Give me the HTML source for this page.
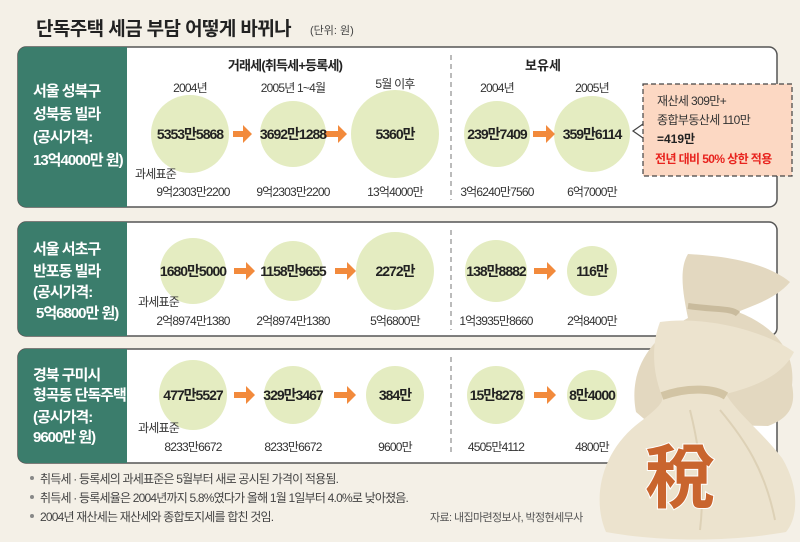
<!DOCTYPE html>
<html><head><meta charset="utf-8"><style>
html,body{margin:0;padding:0;background:#f4f0e7;}
svg{display:block}
text{font-family:"Liberation Sans","Noto Sans CJK KR",sans-serif;}
.n{font-size:14px;font-weight:bold;fill:#222;text-anchor:middle;letter-spacing:-1px}
.y{font-size:12px;fill:#333;text-anchor:middle;letter-spacing:-0.8px}
.b{font-size:12px;fill:#333;text-anchor:middle;letter-spacing:-0.8px}
.l{font-size:15px;fill:#fff;font-weight:bold;letter-spacing:-1px}
.nt{font-size:12px;fill:#444;letter-spacing:-0.8px}
</style></head><body>
<svg width="800" height="542" viewBox="0 0 800 542" xmlns="http://www.w3.org/2000/svg">
<rect width="800" height="542" fill="#f4f0e7"/>
<text x="36" y="35" style="font-size:19px;font-weight:bold;fill:#222;letter-spacing:-0.6px">단독주택 세금 부담 어떻게 바뀌나</text>
<text x="310" y="34" style="font-size:11px;fill:#444">(단위: 원)</text>

<g stroke="#555" stroke-width="1.5">
<rect x="18" y="47" width="759" height="160" rx="8" fill="#fff"/>
<rect x="18" y="222" width="759" height="114" rx="8" fill="#fff"/>
<rect x="18" y="349" width="759" height="114" rx="8" fill="#fff"/>
</g>
<path d="M26 47 H127 V207 H26 A8 8 0 0 1 18 199 V55 A8 8 0 0 1 26 47Z" fill="#3b7d6c"/>
<path d="M26 222 H127 V336 H26 A8 8 0 0 1 18 328 V230 A8 8 0 0 1 26 222Z" fill="#3b7d6c"/>
<path d="M26 349 H127 V463 H26 A8 8 0 0 1 18 455 V357 A8 8 0 0 1 26 349Z" fill="#3b7d6c"/>

<g stroke="#777" stroke-dasharray="5,4" stroke-width="1">
<line x1="451" y1="55" x2="451" y2="200"/>
<line x1="451" y1="230" x2="451" y2="330"/>
<line x1="451" y1="357" x2="451" y2="456"/>
</g>

<text class="l" x="33" y="96">서울 성북구</text>
<text class="l" x="33" y="119">성북동 빌라</text>
<text class="l" x="33" y="142">(공시가격:</text>
<text class="l" x="33" y="165">13억4000만 원)</text>

<text class="l" x="33" y="254">서울 서초구</text>
<text class="l" x="33" y="276">반포동 빌라</text>
<text class="l" x="33" y="297">(공시가격:</text>
<text class="l" x="36" y="318">5억6800만 원)</text>

<text class="l" x="33" y="380">경북 구미시</text>
<text class="l" x="33" y="400">형곡동 단독주택</text>
<text class="l" x="33" y="422">(공시가격:</text>
<text class="l" x="33" y="442">9600만 원)</text>

<text x="285" y="70" style="font-size:13px;font-weight:bold;fill:#222;text-anchor:middle;letter-spacing:-0.8px">거래세(취득세+등록세)</text>
<text x="543" y="70" style="font-size:13px;font-weight:bold;fill:#222;text-anchor:middle">보유세</text>

<g fill="#e4ecc1">
<circle cx="190" cy="134" r="39"/><circle cx="293" cy="134" r="33"/><circle cx="395" cy="134" r="44"/><circle cx="497" cy="134" r="33"/><circle cx="592" cy="134" r="38"/>
<ellipse cx="193" cy="271" rx="33" ry="33"/><ellipse cx="293" cy="271" rx="30" ry="30"/><ellipse cx="395" cy="271" rx="39" ry="39"/><ellipse cx="496" cy="271" rx="31" ry="31"/><ellipse cx="592" cy="271" rx="25" ry="25"/>
<ellipse cx="193" cy="395" rx="34" ry="35"/><ellipse cx="293" cy="395" rx="29" ry="29"/><ellipse cx="395" cy="395" rx="29" ry="29"/><ellipse cx="496" cy="395" rx="29" ry="29"/><ellipse cx="592" cy="395" rx="25" ry="25"/>
</g>

<text class="y" x="190" y="92">2004년</text>
<text class="y" x="293" y="92">2005년 1~4월</text>
<text class="y" x="395" y="88">5월 이후</text>
<text class="y" x="497" y="92">2004년</text>
<text class="y" x="592" y="92">2005년</text>

<g fill="#f28a3c">
<path d="M233 131h10v-6l9 9-9 9v-6h-10z"/>
<path d="M324 131h14v-6l9 9-9 9v-6h-14z"/>
<path d="M533 131h13v-6l9 9-9 9v-6h-13z"/>
<path d="M234 268h12v-6l9 9-9 9v-6h-12z"/>
<path d="M335 268h12v-6l9 9-9 9v-6h-12z"/>
<path d="M534 268h13v-6l9 9-9 9v-6h-13z"/>
<path d="M234 392h12v-6l9 9-9 9v-6h-12z"/>
<path d="M334 392h13v-6l9 9-9 9v-6h-13z"/>
<path d="M534 392h13v-6l9 9-9 9v-6h-13z"/>
</g>

<text class="n" x="190" y="139">5353만5868</text>
<text class="n" x="293" y="139">3692만1288</text>
<text class="n" x="395" y="139">5360만</text>
<text class="n" x="497" y="139">239만7409</text>
<text class="n" x="592" y="139">359만6114</text>

<text class="n" x="193" y="276">1680만5000</text>
<text class="n" x="293" y="276">1158만9655</text>
<text class="n" x="395" y="276">2272만</text>
<text class="n" x="496" y="276">138만8882</text>
<text class="n" x="592" y="276">116만</text>

<text class="n" x="193" y="400">477만5527</text>
<text class="n" x="293" y="400">329만3467</text>
<text class="n" x="395" y="400">384만</text>
<text class="n" x="496" y="400">15만8278</text>
<text class="n" x="592" y="400">8만4000</text>

<text x="135" y="178" style="font-size:12px;fill:#333;letter-spacing:-0.8px">과세표준</text>
<text x="138" y="306" style="font-size:12px;fill:#333;letter-spacing:-0.8px">과세표준</text>
<text x="138" y="432" style="font-size:12px;fill:#333;letter-spacing:-0.8px">과세표준</text>

<text class="b" x="193" y="196">9억2303만2200</text>
<text class="b" x="293" y="196">9억2303만2200</text>
<text class="b" x="395" y="196">13억4000만</text>
<text class="b" x="497" y="196">3억6240만7560</text>
<text class="b" x="592" y="196">6억7000만</text>

<text class="b" x="193" y="325">2억8974만1380</text>
<text class="b" x="293" y="325">2억8974만1380</text>
<text class="b" x="395" y="325">5억6800만</text>
<text class="b" x="496" y="325">1억3935만8660</text>
<text class="b" x="592" y="325">2억8400만</text>

<text class="b" x="193" y="451">8233만6672</text>
<text class="b" x="293" y="451">8233만6672</text>
<text class="b" x="395" y="451">9600만</text>
<text class="b" x="496" y="451">4505만4112</text>
<text class="b" x="592" y="451">4800만</text>

<rect x="643" y="84" width="149" height="92" fill="#fcd8c3" stroke="#444" stroke-width="1.2" stroke-dasharray="5,3"/>
<path d="M643 124 L633 131 L643 138" fill="none" stroke="#444" stroke-width="1.2"/>
<text x="657" y="105" style="font-size:12px;fill:#333;letter-spacing:-0.6px">재산세 309만+</text>
<text x="657" y="124" style="font-size:12px;fill:#333;letter-spacing:-0.6px">종합부동산세 110만</text>
<text x="657" y="143" style="font-size:12px;font-weight:bold;fill:#222">=419만</text>
<text x="655" y="163" style="font-size:12px;font-weight:bold;fill:#e8231e;letter-spacing:-0.6px">전년 대비 50% 상한 적용</text>

<circle cx="32" cy="478" r="2" fill="#888"/><text class="nt" x="40" y="483">취득세 · 등록세의 과세표준은 5월부터 새로 공시된 가격이 적용됨.</text>
<circle cx="32" cy="497" r="2" fill="#888"/><text class="nt" x="40" y="502">취득세 · 등록세율은 2004년까지 5.8%였다가 올해 1월 1일부터 4.0%로 낮아졌음.</text>
<circle cx="32" cy="516" r="2" fill="#888"/><text class="nt" x="40" y="521">2004년 재산세는 재산세와 종합토지세를 합친 것임.</text>
<text x="430" y="521" style="font-size:11px;fill:#555;letter-spacing:-0.6px">자료: 내집마련정보사, 박정현세무사</text>

<path d="M636 412 C628 370 650 338 688 318 C684 298 678 270 688 254 C725 256 765 262 790 282 C775 300 750 306 738 312 C772 325 796 350 792 385 C796 405 790 418 768 426 L650 424Z" fill="#e3d8c0"/>
<path d="M688 306 C715 310 732 308 738 314" stroke="#c9bb9d" stroke-width="6" fill="none"/>
<path d="M606 532 C592 500 600 452 640 422 C658 408 664 402 662 396 C654 376 650 348 660 322 C700 316 760 328 794 352 C782 376 756 386 726 394 C736 412 762 432 782 458 C800 488 798 518 786 532 C730 542 660 542 606 532Z" fill="#ece3ce"/>
<path d="M662 396 C690 386 715 389 726 396" stroke="#d2c4a4" stroke-width="8" fill="none"/>
<path d="M690 410 C700 450 705 490 700 530" stroke="#ddd1b6" stroke-width="2" fill="none"/>
<path d="M720 410 C745 440 765 470 775 520" stroke="#ddd1b6" stroke-width="2" fill="none"/>
<text x="680" y="502" style="font-size:70px;font-weight:bold;fill:#c9652e;text-anchor:middle;stroke:#fff;stroke-width:2;paint-order:stroke;font-family:'Noto Sans CJK KR','Noto Sans CJK SC',sans-serif">稅</text>
</svg>
</body></html>
